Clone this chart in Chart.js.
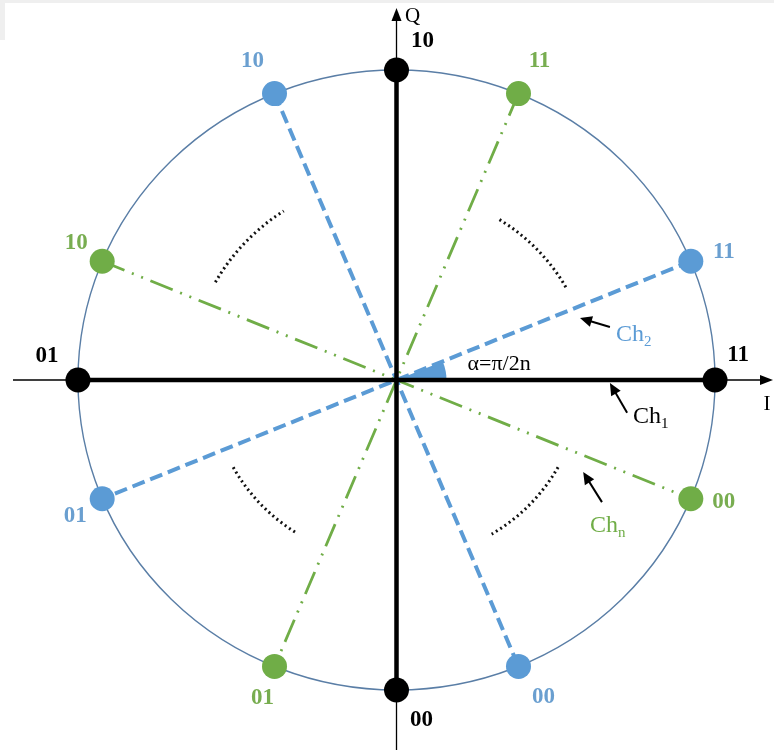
<!DOCTYPE html>
<html>
<head>
<meta charset="utf-8">
<script src="https://cdn.jsdelivr.net/npm/chart.js@4"></script>
<style>
  html, body { margin: 0; padding: 0; background: #fff; overflow: hidden; }
  canvas { display: block; }
</style>
</head>
<body>
<canvas id="constellation" width="774" height="753"></canvas>
<script>
'use strict';

// Ch1 (black) constellation points, I / Q
var blackI = [1, 0, -1, 0];
var blackQ = [0, 1, 0, -1];
var blackLabels = ['11', '10', '01', '00'];

// Ch2 (blue)
var blueI = [0.924, -0.383, -0.924, 0.383];
var blueQ = [0.383, 0.924, -0.383, -0.924];
var blueLabels = ['11', '10', '01', '00'];

// Chn (green)
var greenI = [0.383, -0.924, -0.383, 0.924];
var greenQ = [0.924, 0.383, -0.924, -0.383];
var greenLabels = ['11', '10', '01', '00'];

// dotted arcs between channels (radius, from deg, to deg)
var arcRadius = [0.61, 0.65, 0.585, 0.58];
var arcFrom = [29, 123, 208, 301];
var arcTo = [58, 151, 237, 331];

// angle between Ch1 and Ch2
var alphaDeg = 22.5;
var alphaText = 'α=π/2n';

var BLACK = '#000000';
var BLUE = '#5b9bd5';
var GREEN = '#70ad47';
var SERIF = "'Liberation Serif', 'DejaVu Serif', serif";

function pts(I, Q) {
  return I.map(function(v, i) { return { x: v, y: Q[i] }; });
}
function seg(I, Q, a, b) {
  return [{ x: I[a], y: Q[a] }, { x: I[b], y: Q[b] }];
}

// label offsets in px from each point
var labelOffsets = {
  black: [[23, -25], [26, -29], [-31, -24], [25, 30]],
  blue: [[33, -9], [-22, -32], [-27, 17], [25, 31]],
  green: [[21, -32], [-26, -18], [-12, 32], [33, 3]]
};

// Ch arrows: head / tail in data units, text offset from tail
var chArrows = [
  { head: [0.576, 0.200], tail: [0.670, 0.171], text: 'Ch', sub: '2', color: BLUE, dx: 6, dy: 8 },
  { head: [0.670, -0.010], tail: [0.724, -0.106], text: 'Ch', sub: '1', color: BLACK, dx: 6, dy: 4 },
  { head: [0.586, -0.297], tail: [0.645, -0.394], text: 'Ch', sub: 'n', color: GREEN, dx: -12, dy: 24 }
];

function arrowHead(ctx, x1, y1, x2, y2, len, half) {
  var ang = Math.atan2(y2 - y1, x2 - x1);
  ctx.beginPath();
  ctx.moveTo(x2, y2);
  ctx.lineTo(x2 - len * Math.cos(ang) + half * Math.sin(ang), y2 - len * Math.sin(ang) - half * Math.cos(ang));
  ctx.lineTo(x2 - len * Math.cos(ang) - half * Math.sin(ang), y2 - len * Math.sin(ang) + half * Math.cos(ang));
  ctx.closePath();
  ctx.fill();
}

// background drawing: thin axes, circle, wedge, dotted arcs
var underlay = {
  id: 'underlay',
  beforeDatasetsDraw: function(chart) {
    var ctx = chart.ctx;
    var xs = chart.scales.x, ys = chart.scales.y, area = chart.chartArea;
    var cx = xs.getPixelForValue(0), cy = ys.getPixelForValue(0);
    var rx = xs.getPixelForValue(1) - cx, ry = cy - ys.getPixelForValue(1);
    ctx.save();

    // faint scan border at the top
    ctx.fillStyle = '#efefef';
    ctx.fillRect(0, 0, chart.width, 3);
    ctx.fillRect(0, 0, 5, 40);

    // circle
    ctx.strokeStyle = '#5a7ea6';
    ctx.lineWidth = 1.4;
    ctx.beginPath();
    ctx.ellipse(cx, cy, rx, ry, 0, 0, Math.PI * 2);
    ctx.stroke();

    // thin I / Q axes with arrows
    ctx.strokeStyle = BLACK;
    ctx.fillStyle = BLACK;
    ctx.lineWidth = 1.3;
    ctx.beginPath();
    ctx.moveTo(area.left, cy);
    ctx.lineTo(area.right - 8, cy);
    ctx.moveTo(cx, area.bottom);
    ctx.lineTo(cx, area.top + 8);
    ctx.stroke();
    arrowHead(ctx, area.left, cy, area.right, cy, 13, 5);
    arrowHead(ctx, cx, area.bottom, cx, area.top, 13, 5);

    // alpha wedge
    var wr = 0.157;
    ctx.fillStyle = BLUE;
    ctx.beginPath();
    ctx.moveTo(cx, cy);
    ctx.ellipse(cx, cy, wr * rx, wr * ry, 0, -alphaDeg * Math.PI / 180, 0);
    ctx.closePath();
    ctx.fill();

    // dotted arcs
    ctx.strokeStyle = '#111';
    ctx.lineWidth = 3;
    ctx.setLineDash([2, 3.2]);
    arcRadius.forEach(function(r, i) {
      ctx.beginPath();
      ctx.ellipse(cx, cy, r * rx, r * ry, 0, -arcTo[i] * Math.PI / 180, -arcFrom[i] * Math.PI / 180);
      ctx.stroke();
    });
    ctx.restore();
  }
};

// foreground drawing: point labels, axis names, Ch arrows
var overlay = {
  id: 'overlay',
  afterDatasetsDraw: function(chart) {
    var ctx = chart.ctx;
    var xs = chart.scales.x, ys = chart.scales.y, area = chart.chartArea;
    var cx = xs.getPixelForValue(0), cy = ys.getPixelForValue(0);
    ctx.save();
    ctx.textAlign = 'center';
    ctx.textBaseline = 'middle';
    ctx.font = 'bold 23px ' + SERIF;

    var groups = [
      ['black', blackI, blackQ, blackLabels, BLACK],
      ['blue', blueI, blueQ, blueLabels, '#6a9fd0'],
      ['green', greenI, greenQ, greenLabels, '#78ad50']
    ];
    groups.forEach(function(g) {
      ctx.fillStyle = g[4];
      g[3].forEach(function(lbl, i) {
        var off = labelOffsets[g[0]][i];
        ctx.fillText(lbl, xs.getPixelForValue(g[1][i]) + off[0], ys.getPixelForValue(g[2][i]) + off[1]);
      });
    });

    // axis names
    ctx.fillStyle = BLACK;
    ctx.font = '21px ' + SERIF;
    ctx.fillText('Q', cx + 16, area.top + 8);
    ctx.fillText('I', area.right - 6, cy + 24);

    // alpha
    ctx.font = '22px ' + SERIF;
    ctx.textAlign = 'left';
    ctx.fillText(alphaText, cx + 71, cy - 16);

    // Ch arrows
    chArrows.forEach(function(a) {
      var hx = xs.getPixelForValue(a.head[0]), hy = ys.getPixelForValue(a.head[1]);
      var tx = xs.getPixelForValue(a.tail[0]), ty = ys.getPixelForValue(a.tail[1]);
      ctx.strokeStyle = BLACK;
      ctx.fillStyle = BLACK;
      ctx.lineWidth = 2;
      ctx.beginPath();
      ctx.moveTo(tx, ty);
      ctx.lineTo(hx + (tx - hx) * 0.3, hy + (ty - hy) * 0.3);
      ctx.stroke();
      arrowHead(ctx, tx, ty, hx, hy, 12, 5.5);

      ctx.fillStyle = a.color;
      ctx.textAlign = 'left';
      ctx.font = '24px ' + SERIF;
      var lx = tx + a.dx, ly = ty + a.dy;
      ctx.fillText(a.text, lx, ly);
      var w = ctx.measureText(a.text).width;
      ctx.font = '15px ' + SERIF;
      ctx.fillText(a.sub, lx + w, ly + 7);
    });
    ctx.restore();
  }
};

var lineBase = { showLine: true, pointRadius: 0, fill: false, order: 2 };

new Chart(document.getElementById('constellation'), {
  type: 'scatter',
  data: {
    datasets: [
      { label: 'Ch1 points', data: pts(blackI, blackQ), backgroundColor: BLACK, borderWidth: 0, pointRadius: 12.5, order: 0 },
      { label: 'Ch2 points', data: pts(blueI, blueQ), backgroundColor: BLUE, borderWidth: 0, pointRadius: 12.5, order: 0 },
      { label: 'Chn points', data: pts(greenI, greenQ), backgroundColor: GREEN, borderWidth: 0, pointRadius: 12.5, order: 0 },
      Object.assign({ data: seg(blueI, blueQ, 0, 2), borderColor: BLUE, borderWidth: 4, borderDash: [13, 6] }, lineBase),
      Object.assign({ data: seg(blueI, blueQ, 1, 3), borderColor: BLUE, borderWidth: 4, borderDash: [13, 6] }, lineBase),
      Object.assign({ data: seg(greenI, greenQ, 0, 2), borderColor: GREEN, borderWidth: 2.8, borderDash: [24, 8, 2, 8, 2, 8] }, lineBase),
      Object.assign({ data: seg(greenI, greenQ, 1, 3), borderColor: GREEN, borderWidth: 2.8, borderDash: [24, 8, 2, 8, 2, 8] }, lineBase),
      Object.assign({ data: seg(blackI, blackQ, 0, 2), borderColor: BLACK, borderWidth: 4.5 }, lineBase, { order: 1 }),
      Object.assign({ data: seg(blackI, blackQ, 1, 3), borderColor: BLACK, borderWidth: 4.5 }, lineBase, { order: 1 })
    ]
  },
  options: {
    responsive: false,
    animation: false,
    layout: {
      autoPadding: false,
      padding: { left: 13, right: 1, top: 8, bottom: 3 }
    },
    scales: {
      x: { type: 'linear', min: -1.204, max: 1.182, display: false },
      y: { type: 'linear', min: -1.1935, max: 1.2, display: false }
    },
    plugins: {
      legend: { display: false },
      tooltip: { enabled: false }
    }
  },
  plugins: [underlay, overlay]
});
</script>
</body>
</html>
